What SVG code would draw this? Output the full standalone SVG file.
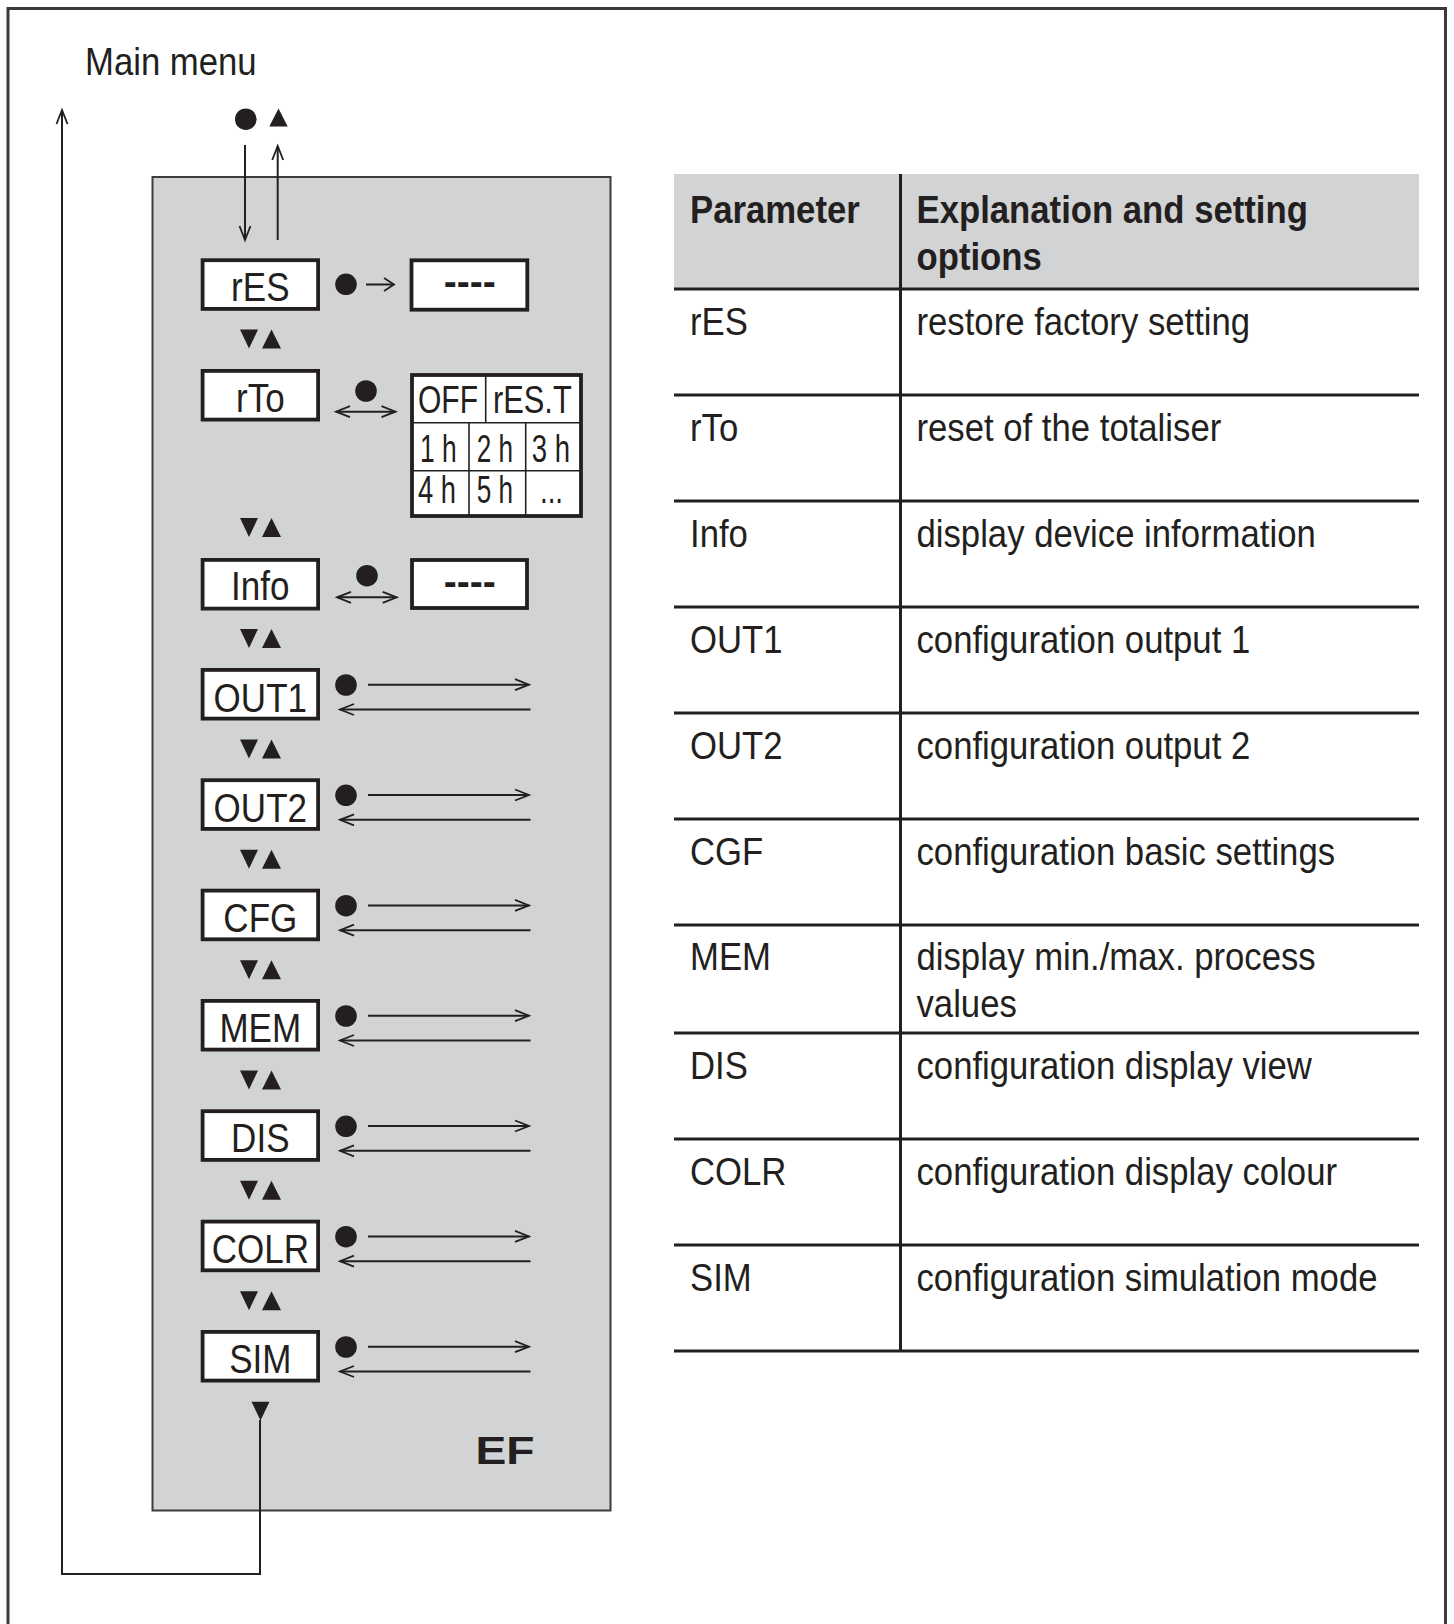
<svg xmlns="http://www.w3.org/2000/svg" width="1454" height="1624" viewBox="0 0 1454 1624">
<style>
.t{font-family:"Liberation Sans",Arial,sans-serif;font-size:39px;fill:#231f20}
.b{font-weight:bold}
.bx{font-family:"Liberation Sans",Arial,sans-serif;font-size:40.5px;fill:#231f20}
.cell{font-family:"Liberation Sans",Arial,sans-serif;font-size:39px;fill:#231f20}
.box{fill:#fff;stroke:#231f20;stroke-width:3.8}
.ln{fill:none;stroke:#231f20;stroke-width:2}
.thin{fill:none;stroke:#231f20;stroke-width:1.6}
.rl{fill:none;stroke:#231f20;stroke-width:3}
.dot{fill:#231f20}
.tri{fill:#231f20}
</style>
<defs>
<marker id="ah" markerUnits="userSpaceOnUse" markerWidth="20" markerHeight="16" viewBox="-16 -8 20 16" refX="0" refY="0" orient="auto-start-reverse"><path d="M-14,-5.5 L0,0 L-14,5.5" fill="none" stroke="#231f20" stroke-width="1.8"/></marker>
<marker id="ahs" markerUnits="userSpaceOnUse" markerWidth="16" markerHeight="18" viewBox="-12 -9 16 18" refX="0" refY="0" orient="auto-start-reverse"><path d="M-10,-6.5 L0,0 L-10,6.5" fill="none" stroke="#231f20" stroke-width="1.8"/></marker>
</defs>
<rect width="1454" height="1624" fill="#fff"/>
<path d="M8,1640 V8.5 H1445.5 V1640" fill="none" stroke="#3a3a3a" stroke-width="3"/>
<text class="t" transform="translate(85 75) scale(0.89 1)">Main menu</text>
<rect id="panel" x="152.5" y="177" width="458" height="1333.5" fill="#d1d3d4" stroke="#3c3c3c" stroke-width="2"/>
<text class="t b" font-size="49" x="475.5" y="1464" textLength="59" lengthAdjust="spacingAndGlyphs">EF</text>
<circle class="dot" cx="245.8" cy="119.2" r="10.8"/>
<polygon class="tri" points="269.3,126.5 287.7,126.5 278.5,108.5"/>
<g id="connectors">
<line class="ln" x1="245" y1="145" x2="245" y2="240" marker-end="url(#ah)"/>
<line class="ln" x1="277.7" y1="240" x2="277.7" y2="146" marker-end="url(#ah)"/>
<path class="ln" d="M260,1420 V1574 H62 V110" marker-end="url(#ah)"/>
<line class="ln" x1="366" y1="284.5" x2="394" y2="284.5" marker-end="url(#ahs)"/>
<line class="ln" x1="336" y1="411.7" x2="395.5" y2="411.7" marker-start="url(#ah)" marker-end="url(#ah)"/>
<line class="ln" x1="337" y1="597.3" x2="396.7" y2="597.3" marker-start="url(#ah)" marker-end="url(#ah)"/>
<line class="ln" x1="368" y1="684.7" x2="529" y2="684.7" marker-end="url(#ah)"/>
<line class="ln" x1="530.5" y1="709.5" x2="340" y2="709.5" marker-end="url(#ah)"/>
<line class="ln" x1="368" y1="795" x2="529" y2="795" marker-end="url(#ah)"/>
<line class="ln" x1="530.5" y1="819.8" x2="340" y2="819.8" marker-end="url(#ah)"/>
<line class="ln" x1="368" y1="905.4" x2="529" y2="905.4" marker-end="url(#ah)"/>
<line class="ln" x1="530.5" y1="930.2" x2="340" y2="930.2" marker-end="url(#ah)"/>
<line class="ln" x1="368" y1="1015.7" x2="529" y2="1015.7" marker-end="url(#ah)"/>
<line class="ln" x1="530.5" y1="1040.5" x2="340" y2="1040.5" marker-end="url(#ah)"/>
<line class="ln" x1="368" y1="1126" x2="529" y2="1126" marker-end="url(#ah)"/>
<line class="ln" x1="530.5" y1="1150.8" x2="340" y2="1150.8" marker-end="url(#ah)"/>
<line class="ln" x1="368" y1="1236.4" x2="529" y2="1236.4" marker-end="url(#ah)"/>
<line class="ln" x1="530.5" y1="1261.2" x2="340" y2="1261.2" marker-end="url(#ah)"/>
<line class="ln" x1="368" y1="1346.7" x2="529" y2="1346.7" marker-end="url(#ah)"/>
<line class="ln" x1="530.5" y1="1371.5" x2="340" y2="1371.5" marker-end="url(#ah)"/>
</g>
<g id="nav-triangles">
<polygon class="tri" points="240,329.5 258,329.5 249,348.5"/><polygon class="tri" points="262,348.5 281,348.5 271.5,329.5"/>
<polygon class="tri" points="240,518 258,518 249,537"/><polygon class="tri" points="262,537 281,537 271.5,518"/>
<polygon class="tri" points="240,629 258,629 249,648"/><polygon class="tri" points="262,648 281,648 271.5,629"/>
<polygon class="tri" points="240,739.5 258,739.5 249,758.5"/><polygon class="tri" points="262,758.5 281,758.5 271.5,739.5"/>
<polygon class="tri" points="240,849.8 258,849.8 249,868.8"/><polygon class="tri" points="262,868.8 281,868.8 271.5,849.8"/>
<polygon class="tri" points="240,960.2 258,960.2 249,979.2"/><polygon class="tri" points="262,979.2 281,979.2 271.5,960.2"/>
<polygon class="tri" points="240,1070.5 258,1070.5 249,1089.5"/><polygon class="tri" points="262,1089.5 281,1089.5 271.5,1070.5"/>
<polygon class="tri" points="240,1180.8 258,1180.8 249,1199.8"/><polygon class="tri" points="262,1199.8 281,1199.8 271.5,1180.8"/>
<polygon class="tri" points="240,1291.2 258,1291.2 249,1310.2"/><polygon class="tri" points="262,1310.2 281,1310.2 271.5,1291.2"/>
<polygon class="tri" points="251.5,1401.7 269.5,1401.7 260.5,1420.5"/>
</g>
<g id="node-rES">
<rect class="box" x="202.6" y="260.2" width="115.5" height="48.7"/>
<text class="bx" text-anchor="middle" transform="translate(260.3 300.5) scale(0.865 1)">rES</text>
<circle class="dot" cx="346" cy="284.3" r="10.8"/>
<rect class="box" x="411.5" y="260.3" width="115.8" height="49.4" stroke-width="4"/>
<text class="t b" font-size="42" text-anchor="middle" x="469.7" y="295.4">----</text>
</g>
<g id="node-rTo">
<rect class="box" x="202.6" y="370.9" width="115.5" height="48.7"/>
<text class="bx" text-anchor="middle" transform="translate(260.3 411.8) scale(0.865 1)">rTo</text>
<circle class="dot" cx="366" cy="391" r="10.8"/>
<rect class="box" x="412" y="375" width="169" height="141" stroke-width="4"/>
<line class="thin" x1="412" y1="422.7" x2="581" y2="422.7"/>
<line class="thin" x1="412" y1="470.7" x2="581" y2="470.7"/>
<line class="thin" x1="485.7" y1="375" x2="485.7" y2="422.7"/>
<line class="thin" x1="469" y1="422.7" x2="469" y2="516"/>
<line class="thin" x1="525.7" y1="422.7" x2="525.7" y2="516"/>
<text class="cell" x="418" y="413" textLength="60" lengthAdjust="spacingAndGlyphs">OFF</text>
<text class="cell" x="493" y="413" textLength="78.7" lengthAdjust="spacingAndGlyphs">rES.T</text>
<text class="cell" x="420" y="462" textLength="36.7" lengthAdjust="spacingAndGlyphs">1 h</text>
<text class="cell" x="476.7" y="462" textLength="36.3" lengthAdjust="spacingAndGlyphs">2 h</text>
<text class="cell" x="531.7" y="462" textLength="38.3" lengthAdjust="spacingAndGlyphs">3 h</text>
<text class="cell" x="418" y="502.5" textLength="38" lengthAdjust="spacingAndGlyphs">4 h</text>
<text class="cell" x="476.7" y="502.5" textLength="36.3" lengthAdjust="spacingAndGlyphs">5 h</text>
<text class="cell" x="540" y="502.5" textLength="23" lengthAdjust="spacingAndGlyphs">...</text>
</g>
<g id="node-Info">
<rect class="box" x="202.6" y="559.9" width="115.5" height="48.7"/>
<text class="bx" text-anchor="middle" transform="translate(260.3 600) scale(0.865 1)">Info</text>
<circle class="dot" cx="367" cy="575.7" r="10.8"/>
<rect class="box" x="412" y="560" width="115" height="48" stroke-width="4"/>
<text class="t b" font-size="42" text-anchor="middle" x="469.7" y="594.6">----</text>
</g>
<g id="node-OUT1">
<rect class="box" x="202.6" y="669.9" width="115.5" height="48.7"/>
<text class="bx" text-anchor="middle" transform="translate(260.3 711.5) scale(0.865 1)">OUT1</text>
<circle class="dot" cx="346" cy="685" r="10.8"/>
</g>
<g id="node-OUT2">
<rect class="box" x="202.6" y="780.2" width="115.5" height="48.7"/>
<text class="bx" text-anchor="middle" transform="translate(260.3 821.8) scale(0.865 1)">OUT2</text>
<circle class="dot" cx="346" cy="795.3" r="10.8"/>
</g>
<g id="node-CFG">
<rect class="box" x="202.6" y="890.6" width="115.5" height="48.7"/>
<text class="bx" text-anchor="middle" transform="translate(260.3 932.2) scale(0.865 1)">CFG</text>
<circle class="dot" cx="346" cy="905.7" r="10.8"/>
</g>
<g id="node-MEM">
<rect class="box" x="202.6" y="1000.9" width="115.5" height="48.7"/>
<text class="bx" text-anchor="middle" transform="translate(260.3 1042) scale(0.865 1)">MEM</text>
<circle class="dot" cx="346" cy="1016" r="10.8"/>
</g>
<g id="node-DIS">
<rect class="box" x="202.6" y="1111.2" width="115.5" height="48.7"/>
<text class="bx" text-anchor="middle" transform="translate(260.3 1152.3) scale(0.865 1)">DIS</text>
<circle class="dot" cx="346" cy="1126.3" r="10.8"/>
</g>
<g id="node-COLR">
<rect class="box" x="202.6" y="1221.6" width="115.5" height="48.7"/>
<text class="bx" text-anchor="middle" transform="translate(260.3 1262.7) scale(0.865 1)">COLR</text>
<circle class="dot" cx="346" cy="1236.7" r="10.8"/>
</g>
<g id="node-SIM">
<rect class="box" x="202.6" y="1331.9" width="115.5" height="48.7"/>
<text class="bx" text-anchor="middle" transform="translate(260.3 1372.5) scale(0.865 1)">SIM</text>
<circle class="dot" cx="346" cy="1347" r="10.8"/>
</g>
<g id="table">
<rect x="674" y="174" width="745" height="115" fill="#d1d3d4"/>
<line class="rl" x1="900.5" y1="174" x2="900.5" y2="1352"/>
<line class="rl" x1="674" y1="289" x2="1419" y2="289"/>
<line class="rl" x1="674" y1="395" x2="1419" y2="395"/>
<line class="rl" x1="674" y1="501" x2="1419" y2="501"/>
<line class="rl" x1="674" y1="607" x2="1419" y2="607"/>
<line class="rl" x1="674" y1="713" x2="1419" y2="713"/>
<line class="rl" x1="674" y1="819" x2="1419" y2="819"/>
<line class="rl" x1="674" y1="925" x2="1419" y2="925"/>
<line class="rl" x1="674" y1="1033" x2="1419" y2="1033"/>
<line class="rl" x1="674" y1="1139" x2="1419" y2="1139"/>
<line class="rl" x1="674" y1="1245" x2="1419" y2="1245"/>
<line class="rl" x1="674" y1="1351" x2="1419" y2="1351" stroke-width="3.5"/>
<text class="t b" transform="translate(690 223) scale(0.89 1)">Parameter</text>
<text class="t b" transform="translate(916.5 223) scale(0.89 1)">Explanation and setting</text>
<text class="t b" transform="translate(916.5 270) scale(0.89 1)">options</text>
<text class="t" transform="translate(690 334.5) scale(0.89 1)">rES</text>
<text class="t" transform="translate(916.5 334.5) scale(0.89 1)">restore factory setting</text>
<text class="t" transform="translate(690 440.5) scale(0.89 1)">rTo</text>
<text class="t" transform="translate(916.5 440.5) scale(0.89 1)">reset of the totaliser</text>
<text class="t" transform="translate(690 546.5) scale(0.89 1)">Info</text>
<text class="t" transform="translate(916.5 546.5) scale(0.89 1)">display device information</text>
<text class="t" transform="translate(690 652.5) scale(0.89 1)">OUT1</text>
<text class="t" transform="translate(916.5 652.5) scale(0.89 1)">configuration output 1</text>
<text class="t" transform="translate(690 758.5) scale(0.89 1)">OUT2</text>
<text class="t" transform="translate(916.5 758.5) scale(0.89 1)">configuration output 2</text>
<text class="t" transform="translate(690 864.5) scale(0.89 1)">CGF</text>
<text class="t" transform="translate(916.5 864.5) scale(0.89 1)">configuration basic settings</text>
<text class="t" transform="translate(690 969.5) scale(0.89 1)">MEM</text>
<text class="t" transform="translate(916.5 969.5) scale(0.89 1)">display min./max. process</text>
<text class="t" transform="translate(916.5 1017) scale(0.89 1)">values</text>
<text class="t" transform="translate(690 1078.5) scale(0.89 1)">DIS</text>
<text class="t" transform="translate(916.5 1078.5) scale(0.89 1)">configuration display view</text>
<text class="t" transform="translate(690 1184.5) scale(0.89 1)">COLR</text>
<text class="t" transform="translate(916.5 1184.5) scale(0.89 1)">configuration display colour</text>
<text class="t" transform="translate(690 1290.5) scale(0.89 1)">SIM</text>
<text class="t" transform="translate(916.5 1290.5) scale(0.89 1)">configuration simulation mode</text>
</g>
</svg>
